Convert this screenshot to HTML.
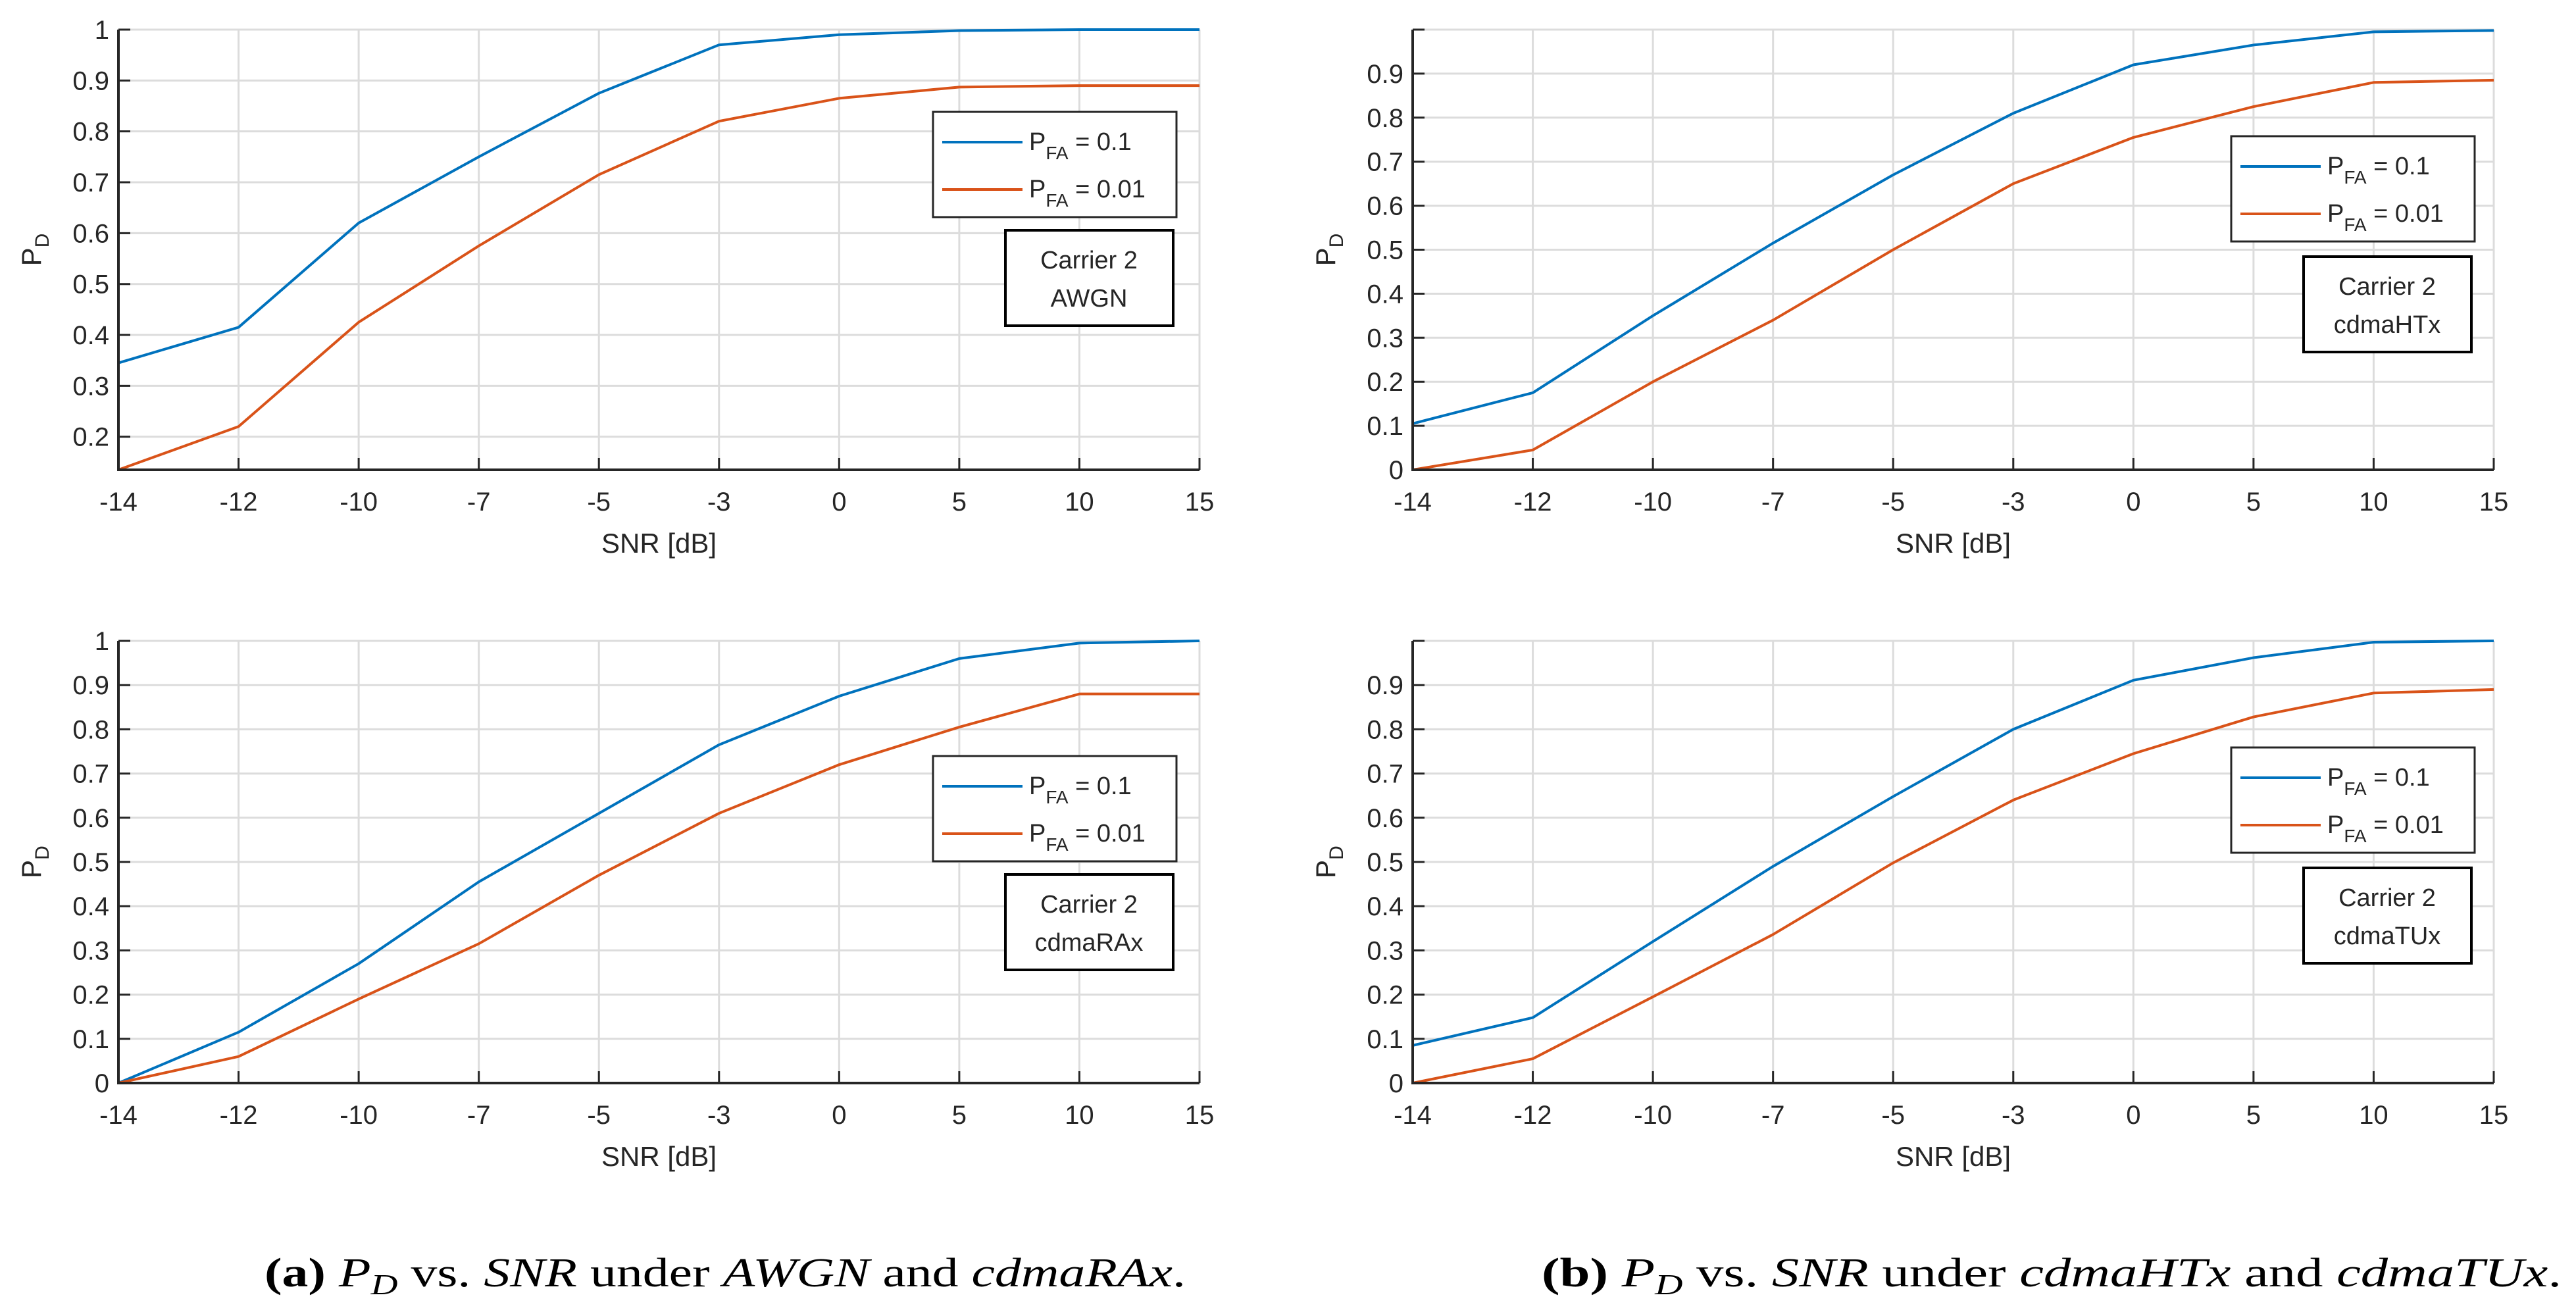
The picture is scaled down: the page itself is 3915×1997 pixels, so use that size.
<!DOCTYPE html>
<html><head><meta charset="utf-8"><style>
html,body{margin:0;padding:0;background:#fff;}
svg{display:block;}
text{font-family:"Liberation Sans",sans-serif;fill:#262626;}
</style></head><body>
<svg id="fig" width="3915" height="1997" viewBox="0 0 3915 1997" xmlns="http://www.w3.org/2000/svg">
<text x="402" y="1955" textLength="1400" lengthAdjust="spacingAndGlyphs" style="font-family:'Liberation Serif',serif;font-size:62px;fill:#000"><tspan font-weight="bold">(a)</tspan> <tspan font-style="italic">P</tspan><tspan font-style="italic" font-size="44" dy="12">D</tspan><tspan dy="-12"> vs. </tspan><tspan font-style="italic">SNR</tspan> under <tspan font-style="italic">AWGN</tspan> and <tspan font-style="italic">cdmaRAx</tspan>.</text>
<text x="2343" y="1955" textLength="1550" lengthAdjust="spacingAndGlyphs" style="font-family:'Liberation Serif',serif;font-size:62px;fill:#000"><tspan font-weight="bold">(b)</tspan> <tspan font-style="italic">P</tspan><tspan font-style="italic" font-size="44" dy="12">D</tspan><tspan dy="-12"> vs. </tspan><tspan font-style="italic">SNR</tspan> under <tspan font-style="italic">cdmaHTx</tspan> and <tspan font-style="italic">cdmaTUx</tspan>.</text>
</svg>
<script>
const categories = ['-14','-12','-10','-7','-5','-3','0','5','10','15'];
const awgnBlue = [0.345,0.415,0.62,0.75,0.875,0.97,0.99,0.998,1.0,1.0];
const awgnRed  = [0.135,0.22,0.425,0.575,0.715,0.82,0.865,0.887,0.89,0.89];
const htBlue = [0.105,0.175,0.35,0.515,0.67,0.81,0.92,0.965,0.995,0.998];
const htRed  = [0.0,0.045,0.2,0.34,0.5,0.65,0.755,0.825,0.88,0.885];
const raBlue = [0.0,0.115,0.27,0.455,0.61,0.765,0.875,0.96,0.995,1.0];
const raRed  = [0.0,0.06,0.19,0.315,0.47,0.61,0.72,0.805,0.88,0.88];
const tuBlue = [0.085,0.148,0.32,0.49,0.648,0.80,0.911,0.962,0.997,1.0];
const tuRed  = [0.0,0.055,0.195,0.336,0.498,0.64,0.745,0.828,0.882,0.89];
const yTicksAwgn = [0.2,0.3,0.4,0.5,0.6,0.7,0.8,0.9,1];
const yTicksFull = [0,0.1,0.2,0.3,0.4,0.5,0.6,0.7,0.8,0.9,1];
const legendLabels = ['0.1','0.01'];

const NS='http://www.w3.org/2000/svg';
const svg=document.getElementById('fig');
function mk(tag,attrs,parent){const e=document.createElementNS(NS,tag);for(const k in attrs)e.setAttribute(k,attrs[k]);(parent||svg).appendChild(e);return e;}

function panel(id,L,T,W,H,ymin,yTicks,showTopLabel,blue,red,channel,legTop,boxTop,legL,boxL){
  const g=mk('g',{});
  
  
  const xs=i=>L+W*i/(categories.length-1);
  const ys=v=>T+H*(1-(v-ymin)/(1-ymin));
  categories.forEach((c,i)=>{const l=mk('line',{x1:xs(i),x2:xs(i),y1:T,y2:T+H,stroke:'#dcdcdc','stroke-width':3},g);
    
    });
  yTicks.forEach(v=>{const l=mk('line',{x1:L,x2:L+W,y1:ys(v),y2:ys(v),stroke:'#dcdcdc','stroke-width':3},g);
    
    });
  [[blue,'#0072BD','pfa-0.1-line'],[red,'#D95319','pfa-0.01-line']].forEach(([d,col,nm])=>{
    const p=mk('polyline',{points:d.map((v,i)=>xs(i)+','+ys(v)).join(' '),fill:'none',stroke:col,'stroke-width':4,'stroke-linejoin':'round'},g);
    
    
  });
  const ax=mk('path',{d:`M${L},${T} L${L},${T+H} L${L+W},${T+H}`,fill:'none',stroke:'#262626','stroke-width':4},g);
  
  
  categories.forEach((c,i)=>{
    mk('line',{x1:xs(i),x2:xs(i),y1:T+H,y2:T+H-18,stroke:'#262626','stroke-width':3},g);
    const t=mk('text',{x:xs(i),y:T+H+62,'text-anchor':'middle','font-size':40},g);
    t.textContent=c;
    
    
  });
  yTicks.forEach(v=>{
    mk('line',{x1:L,x2:L+18,y1:ys(v),y2:ys(v),stroke:'#262626','stroke-width':3},g);
    if(v===1&&!showTopLabel)return;
    const t=mk('text',{x:L-14,y:ys(v)+14,'text-anchor':'end','font-size':40},g);
    t.textContent=String(v);
    
    
  });
  const xl=mk('text',{x:L+W/2,y:T+H+126,'text-anchor':'middle','font-size':42},g);
  xl.textContent='SNR [dB]';
  
  
  const yl=mk('text',{transform:`translate(${L-118},${T+H/2}) rotate(-90)`,'text-anchor':'middle','font-size':42},g);
  yl.innerHTML='P<tspan font-size="30" dy="12">D</tspan>';
  
  
  const lg=mk('g',{},g);
  
  
  mk('rect',{x:L+legL,y:T+legTop,width:370,height:160,fill:'#fff',stroke:'#262626','stroke-width':3},lg);
  [['#0072BD',legendLabels[0]],['#D95319',legendLabels[1]]].forEach(([col,lab],k)=>{
    const cy=T+legTop+46+k*72;
    mk('line',{x1:L+legL+14,x2:L+legL+136,y1:cy,y2:cy,stroke:col,'stroke-width':4},lg);
    const t=mk('text',{x:L+legL+146,y:cy+12,'font-size':38},lg);
    t.innerHTML='P<tspan font-size="28" dy="14">FA</tspan><tspan dy="-14"> = '+lab+'</tspan>';
    
    
  });
  const bx=mk('g',{},g);
  
  
  mk('rect',{x:L+boxL,y:T+boxTop,width:255,height:145,fill:'#fff',stroke:'#000','stroke-width':4},bx);
  const t1=mk('text',{x:L+boxL+127,y:T+boxTop+58,'text-anchor':'middle','font-size':38,fill:'#000'},bx);
  t1.textContent='Carrier 2';
  const t2=mk('text',{x:L+boxL+127,y:T+boxTop+116,'text-anchor':'middle','font-size':38,fill:'#000'},bx);
  t2.textContent=channel;
}
panel('awgn',180,45,1643,669,0.135,yTicksAwgn,true,awgnBlue,awgnRed,'AWGN',125,305,1238,1348);
panel('cdmahtx',2147,45,1643,669,0,yTicksFull,false,htBlue,htRed,'cdmaHTx',162,345,1244,1354);
panel('cdmarax',180,974,1643,672,0,yTicksFull,true,raBlue,raRed,'cdmaRAx',175,355,1238,1348);
panel('cdmatux',2147,974,1643,672,0,yTicksFull,false,tuBlue,tuRed,'cdmaTUx',162,345,1244,1354);
</script>
</body></html>
